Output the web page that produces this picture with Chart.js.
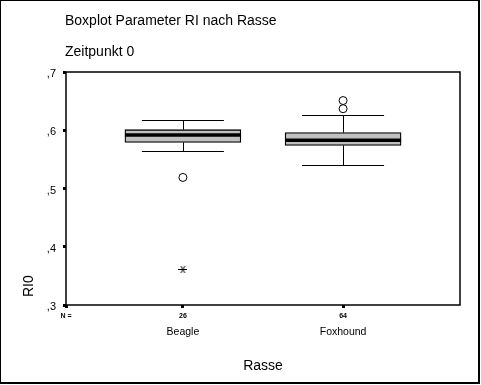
<!DOCTYPE html>
<html>
<head>
<meta charset="utf-8">
<title>Boxplot Parameter RI nach Rasse</title>
<script src="https://cdn.jsdelivr.net/npm/chart.js@4.4.1/dist/chart.umd.min.js"></script>
<style>
	html, body { margin: 0; padding: 0; background: #fff; }
	canvas { display: block; }
</style>
</head>
<body>
<canvas id="ri-boxplot" width="481" height="385"></canvas>
<script>
'use strict';

// Values (RI, Zeitpunkt 0)
const categories = ['Beagle', 'Foxhound'];
const counts = [26, 64];
const whiskerLow = [0.564, 0.541];
const quartile1 = [0.579, 0.574];
const medians = [0.592, 0.583];
const quartile3 = [0.601, 0.596];
const whiskerHigh = [0.617, 0.627];
const outliers = [[0.519], [0.651, 0.637]];
const extremes = [[0.361], []];
const yTicks = [0.3, 0.4, 0.5, 0.6, 0.7];
const nLabels = ['N ='].concat(counts.map(String));

const FONT = '"Liberation Sans", Arial, sans-serif';
const CAP_HALF = 0.256; // whisker cap half width, in x units

Chart.defaults.font.family = FONT;
Chart.defaults.color = '#000';

/**
 * Little asterisk used by SPSS for extreme values
 */
function makeStar() {
	const c = document.createElement('canvas');
	c.width = 9;
	c.height = 9;
	const g = c.getContext('2d');
	g.strokeStyle = '#000';
	g.lineWidth = 1;
	g.beginPath();
	g.moveTo(0, 4.5); g.lineTo(9, 4.5);
	g.moveTo(2.5, 1); g.lineTo(6.5, 8);
	g.moveTo(6.5, 1); g.lineTo(2.5, 8);
	g.stroke();
	return c;
}

function flatPoints(groups) {
	const pts = [];
	groups.forEach((vals, i) => {
		vals.forEach(v => pts.push({ x: i + 1, y: v }));
	});
	return pts;
}

// snap to the pixel grid so 1px lines stay crisp
function crisp(v) {
	return Math.round(v) + 0.5;
}

function line(ctx, x1, y1, x2, y2) {
	ctx.beginPath();
	ctx.moveTo(x1, y1);
	ctx.lineTo(x2, y2);
	ctx.stroke();
}

const boxplotDecor = {
	id: 'boxplotDecor',

	beforeDraw: function(chart) {
		const ctx = chart.ctx;
		ctx.save();
		ctx.fillStyle = '#fff';
		ctx.fillRect(0, 0, chart.width, chart.height);
		// outer picture border
		ctx.fillStyle = '#000';
		ctx.fillRect(0, 0, 480, 1);
		ctx.fillRect(0, 0, 1, 384);
		ctx.fillRect(478, 0, 2, 384);
		ctx.fillRect(0, 382, 480, 2);
		ctx.restore();
	},

	afterDatasetsDraw: function(chart) {
		const ctx = chart.ctx;
		const x = chart.scales.x;
		const y = chart.scales.y;
		const bars = chart.getDatasetMeta(0).data;

		ctx.save();
		ctx.strokeStyle = '#000';

		categories.forEach((c, i) => {
			const cx = crisp(x.getPixelForValue(i + 1));
			const capL = x.getPixelForValue(i + 1 - CAP_HALF);
			const capR = x.getPixelForValue(i + 1 + CAP_HALF);
			const hi = crisp(y.getPixelForValue(whiskerHigh[i]));
			const lo = crisp(y.getPixelForValue(whiskerLow[i]));
			const q1 = y.getPixelForValue(quartile1[i]);
			const q3 = y.getPixelForValue(quartile3[i]);

			ctx.lineWidth = 1;
			line(ctx, cx, q3, cx, hi);
			line(ctx, capL, hi, capR, hi);
			line(ctx, cx, q1, cx, lo);
			line(ctx, capL, lo, capR, lo);

			// median
			const bar = bars[i].getProps(['x', 'width'], true);
			const med = y.getPixelForValue(medians[i]);
			ctx.lineWidth = 3.5;
			line(ctx, bar.x - bar.width / 2, med, bar.x + bar.width / 2, med);
		});

		// plot frame
		const a = chart.chartArea;
		ctx.lineWidth = 1.5;
		ctx.strokeRect(a.left, a.top, a.right - a.left, a.bottom - a.top);
		ctx.restore();
	},

	afterDraw: function(chart) {
		const ctx = chart.ctx;
		ctx.save();
		ctx.fillStyle = '#000';
		ctx.font = '14px ' + FONT;
		ctx.textAlign = 'left';
		ctx.textBaseline = 'alphabetic';
		ctx.fillText('Boxplot Parameter RI nach Rasse', 65, 25);
		ctx.fillText('Zeitpunkt 0', 65, 56);

		// y axis title sits low, next to the bottom tick
		ctx.translate(33, 297);
		ctx.rotate(-Math.PI / 2);
		ctx.fillText('RI0', 0, 0);
		ctx.restore();
	}
};

const categoryTicks = function(scale) {
	scale.ticks = categories.map((c, i) => ({ value: i + 1 }));
};

new Chart(document.getElementById('ri-boxplot'), {
	type: 'bar',
	data: {
		datasets: [
			{
				label: 'Box',
				data: categories.map((c, i) => ({ x: i + 1, y: [quartile1[i], quartile3[i]] })),
				backgroundColor: '#c0c0c0',
				borderColor: '#000',
				borderWidth: 1.3,
				borderSkipped: false,
				barThickness: 116,
				xAxisID: 'x',
				yAxisID: 'y'
			},
			{
				type: 'scatter',
				label: 'Ausreißer',
				data: flatPoints(outliers),
				pointStyle: 'circle',
				pointRadius: 4,
				pointBorderWidth: 1,
				pointBackgroundColor: '#fff',
				pointBorderColor: '#000',
				xAxisID: 'x',
				yAxisID: 'y'
			},
			{
				type: 'scatter',
				label: 'Extremwerte',
				data: flatPoints(extremes),
				pointStyle: makeStar(),
				xAxisID: 'x',
				yAxisID: 'y'
			}
		]
	},
	plugins: [boxplotDecor],
	options: {
		responsive: false,
		animation: false,
		events: [],
		layout: {
			padding: { top: 72, right: 21, bottom: 0, left: 0 }
		},
		plugins: {
			legend: { display: false },
			tooltip: { enabled: false }
		},
		scales: {
			y: {
				min: 0.3,
				max: 0.7,
				afterBuildTicks: function(scale) {
					scale.ticks = yTicks.map(v => ({ value: v }));
				},
				afterFit: function(scale) {
					scale.width = 66;
				},
				grid: { drawOnChartArea: false, tickLength: 3, tickWidth: 3, color: '#000' },
				border: { display: false },
				ticks: {
					padding: 7,
					labelOffset: 2,
					font: { size: 11 },
					callback: function(value) {
						return ',' + Math.round(value * 10);
					}
				}
			},
			x: {
				type: 'linear',
				position: 'bottom',
				weight: 0,
				min: 0.27,
				max: 2.73,
				offset: false,
				afterBuildTicks: function(scale) {
					scale.ticks = [{ value: scale.min }].concat(categories.map((c, i) => ({ value: i + 1 })));
				},
				afterFit: function(scale) {
					scale.height = 20;
				},
				grid: { drawOnChartArea: false, offset: false, tickLength: 3, tickWidth: 3, color: '#000' },
				border: { display: false },
				ticks: {
					autoSkip: false,
					maxRotation: 0,
					padding: 4,
					font: { size: 7, weight: 'bold' },
					callback: function(value, index) {
						return nLabels[index];
					}
				}
			},
			x2: {
				type: 'linear',
				position: 'bottom',
				weight: 1,
				min: 0.27,
				max: 2.73,
				offset: false,
				afterBuildTicks: categoryTicks,
				afterFit: function(scale) {
					scale.height = 60;
				},
				grid: { display: false, drawTicks: false, offset: false },
				border: { display: false },
				ticks: {
					autoSkip: false,
					maxRotation: 0,
					padding: 1,
					font: { size: 10.5 },
					callback: function(value, index) {
						return categories[index];
					}
				},
				title: {
					display: true,
					text: 'Rasse',
					font: { size: 14 },
					padding: { top: 0, bottom: 10 }
				}
			}
		}
	}
});
</script>
</body>
</html>
